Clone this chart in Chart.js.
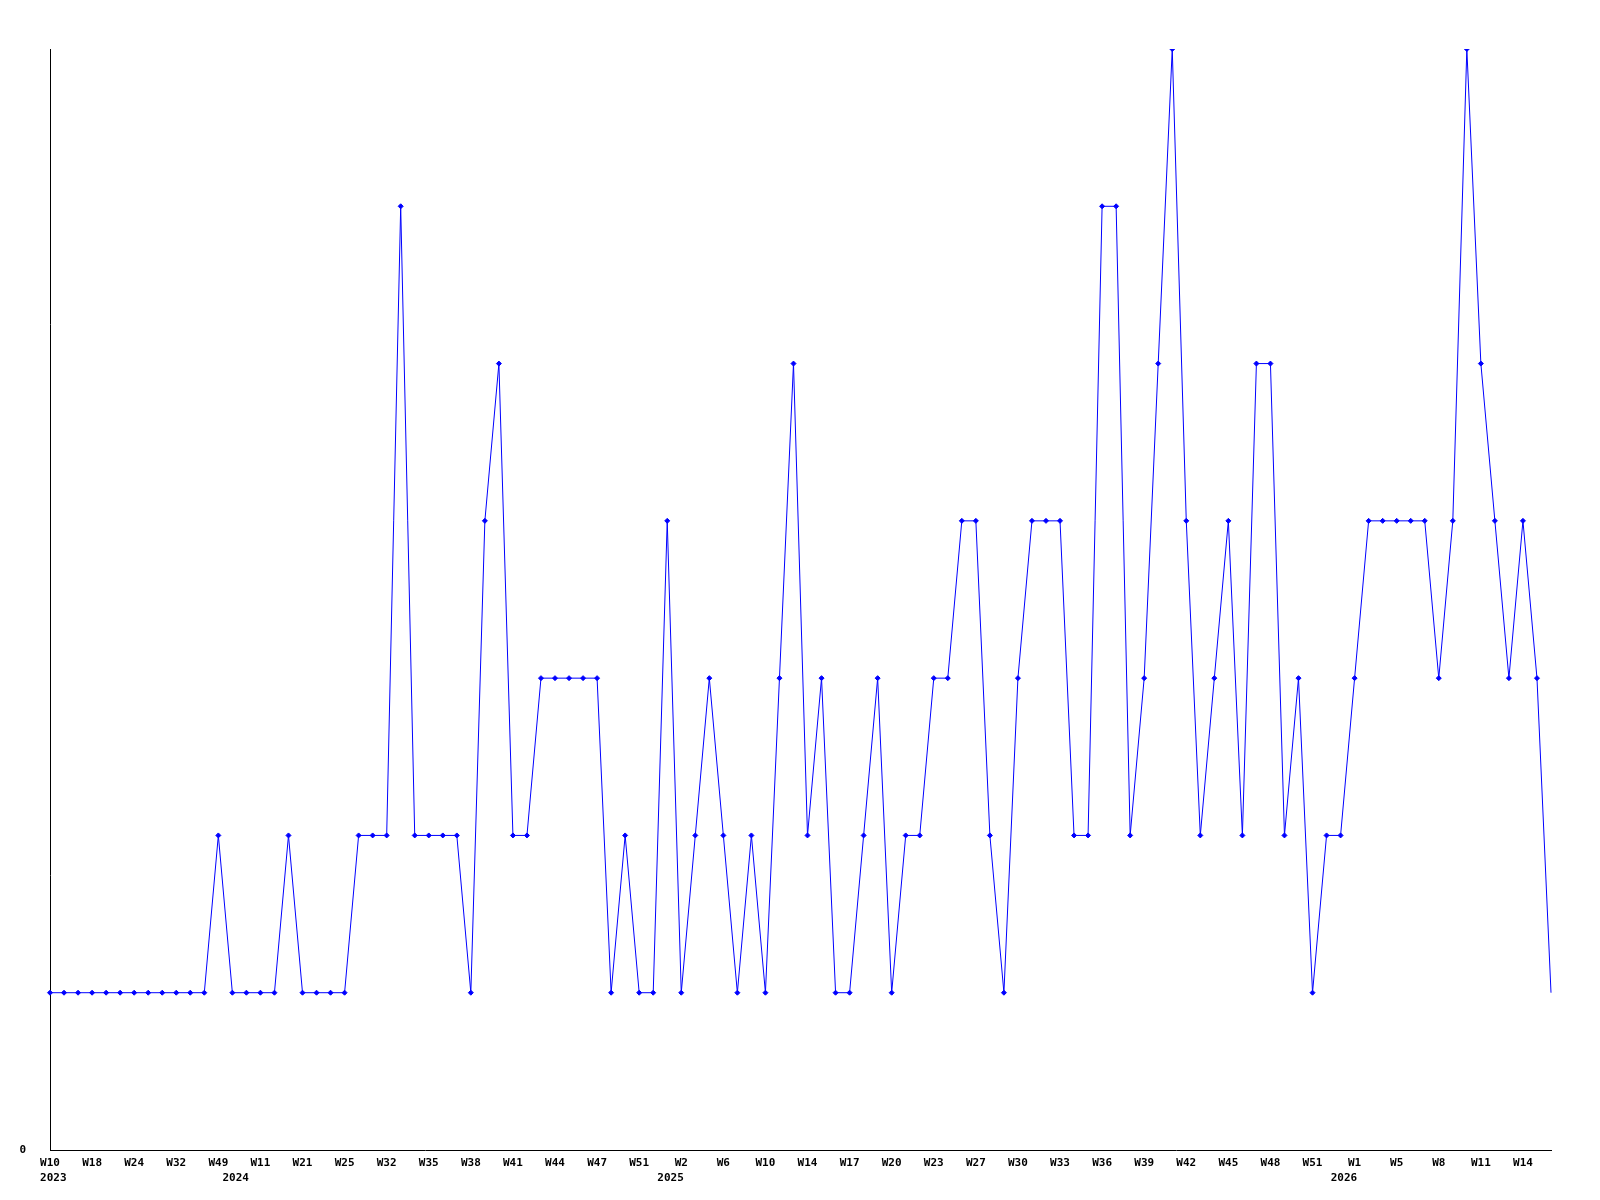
<!DOCTYPE html>
<html>
<head>
<meta charset="utf-8">
<script src="https://cdn.jsdelivr.net/npm/chart.js@4/dist/chart.umd.min.js"></script>
<style>
  html, body { margin: 0; padding: 0; background: #fff; }
  #wrap { width: 1600px; height: 1200px; }
</style>
</head>
<body>
<div id="wrap"><canvas id="myChart"></canvas></div>
<script>
// one entry per week that has data
var weeks = [
  'W10','W12','W15','W18','W20','W22','W24','W27','W30','W32','W38','W44','W49',
  'W2','W7','W11','W15','W18','W21','W23','W24','W25','W27','W29','W32','W33',
  'W34','W35','W36','W37','W38','W39','W40','W41','W42','W43','W44','W45','W46',
  'W47','W48','W49','W51','W52',
  'W1','W2','W3','W5','W6','W7','W8','W10','W11','W12','W14','W15','W16','W17',
  'W18','W19','W20','W21','W22','W23','W24','W26','W27','W28','W29','W30','W31',
  'W32','W33','W34','W35','W36','W37','W38','W39','W40','W41','W42','W43','W44',
  'W45','W46','W47','W48','W49','W50','W51','W52','W53',
  'W1','W2','W3','W5','W6','W7','W8','W9','W10','W11','W12','W13','W14','W15','W16'
];

// year shown under the first week of each year (index into weeks)
var yearIndex = [0, 13, 44, 92];
var yearText = ['2023', '2024', '2025', '2026'];

var counts = [
  1,1,1,1,1,1,1,1,1,1,1,1,2,1,1,1,1,2,1,1,1,1,2,2,2,6,2,2,2,2,
  1,4,5,2,2,3,3,3,3,3,1,2,1,1,4,1,2,3,2,1,2,1,3,5,2,3,1,1,2,3,
  1,2,2,3,3,4,4,2,1,3,4,4,4,2,2,6,6,2,3,5,7,4,2,3,4,2,5,5,2,3,
  1,2,2,3,4,4,4,4,4,3,4,7,5,4,3,4,3,1
];

var labelEvery = 3;
var yMax = 7;

var tickFont = { family: 'DejaVu Sans Mono', size: 11, weight: 'bold', lineHeight: 1.4 };

var ctx = document.getElementById('myChart').getContext('2d');
var myChart = new Chart(ctx, {
  type: 'line',
  data: {
    labels: weeks,
    datasets: [{
      data: counts,
      borderColor: '#0000ff',
      backgroundColor: '#0000ff',
      borderWidth: 1,
      tension: 0,
      fill: false,
      pointStyle: 'rectRot',
      pointRadius: function (c) { return c.dataIndex === counts.length - 1 ? 0 : 2.5; },
      pointBorderWidth: 1,
      pointBackgroundColor: '#0000ff',
      pointBorderColor: '#0000ff'
    }]
  },
  options: {
    responsive: true,
    maintainAspectRatio: false,
    animation: false,
    layout: { padding: { top: 49, right: 49, left: 0, bottom: 0 } },
    plugins: { legend: { display: false }, tooltip: { enabled: false } },
    scales: {
      x: {
        offset: false,
        grid: { display: false, drawTicks: false },
        border: { display: true, color: '#000', width: 1 },
        ticks: {
          autoSkip: false,
          maxRotation: 0,
          minRotation: 0,
          padding: 5,
          color: '#000',
          font: tickFont,
          callback: function (value, index) {
            var w = index % labelEvery === 0 ? weeks[index] : '';
            var y = yearIndex.indexOf(index);
            // year sits a little right of its tick, like the original
            if (y >= 0) return [w, ' ' + yearText[y]];
            return w;
          }
        },
        afterFit: function (scale) { scale.height = 50; }
      },
      y: {
        min: 0,
        max: yMax,
        grid: { display: false, drawTicks: false },
        border: { display: true, color: '#000', width: 1 },
        ticks: {
          stepSize: 1,
          padding: 24,
          color: '#000',
          font: tickFont,
          callback: function (v) { return v === 0 ? '0' : ''; }
        },
        afterFit: function (scale) { scale.width = 50; }
      }
    }
  }
});
</script>
</body>
</html>
